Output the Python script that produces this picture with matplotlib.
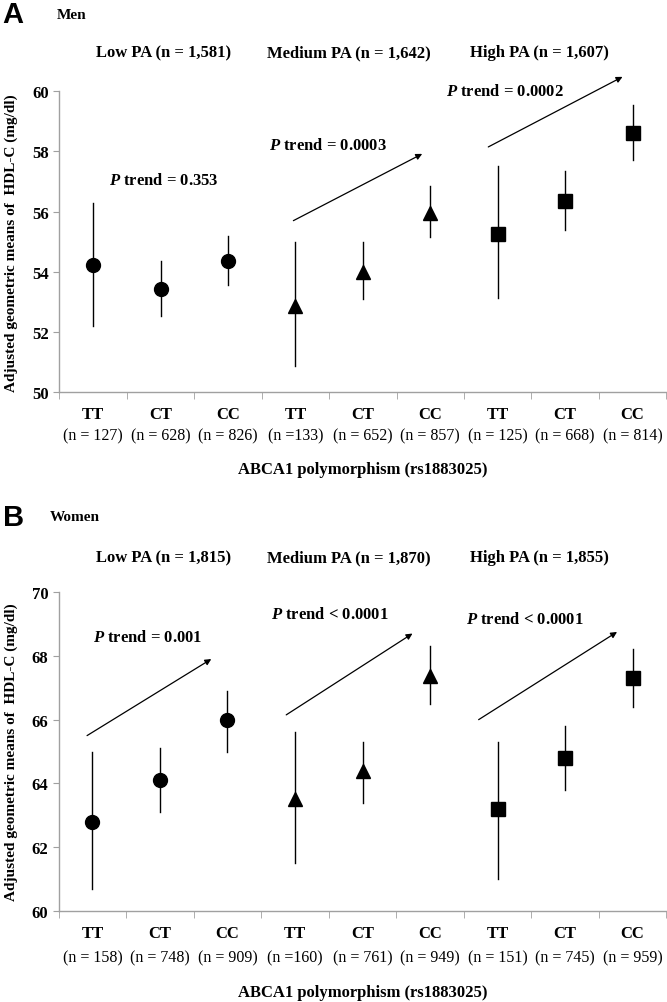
import matplotlib
matplotlib.use("Agg")
from matplotlib import pyplot as plt
from matplotlib import transforms

plt.rcParams['font.family'] = ['Liberation Serif', 'DejaVu Serif']
plt.rcParams['mathtext.fontset'] = 'custom'
plt.rcParams['mathtext.rm'] = 'Liberation Serif:bold'
plt.rcParams['mathtext.bfit'] = 'Liberation Serif:italic:bold'

genotypes = ["TT", "CT", "CC"] * 3
markers = ["o", "^", "s"]
marker_sizes = [10, 10, 10]
groups_a = ["Low PA (n = 1,581)", "Medium PA (n = 1,642)", "High PA (n = 1,607)"]
groups_b = ["Low PA (n = 1,815)", "Medium PA (n = 1,870)", "High PA (n = 1,855)"]
counts_a = ["(n = 127)", "(n = 628)", "(n = 826)", "(n =133)", "(n = 652)", "(n = 857)",
            "(n = 125)", "(n = 668)", "(n = 814)"]
counts_b = ["(n = 158)", "(n = 748)", "(n = 909)", "(n =160)", "(n = 761)", "(n = 949)",
            "(n = 151)", "(n = 745)", "(n = 959)"]

# men: mean, lower, upper
men_mean = [54.24, 53.43, 54.36, 52.85, 53.99, 55.95, 55.25, 56.35, 58.62]
men_low = [52.2, 52.52, 53.55, 50.87, 53.08, 55.15, 53.12, 55.38, 57.7]
men_high = [56.3, 54.36, 55.18, 55.0, 55.0, 56.85, 57.53, 57.35, 59.55]
# women
women_mean = [62.8, 64.1, 66.0, 63.5, 64.38, 67.38, 63.2, 64.8, 67.3]
women_low = [60.7, 63.1, 65.0, 61.5, 63.4, 66.5, 61.0, 63.8, 66.4]
women_high = [65.0, 65.1, 66.9, 65.6, 65.3, 68.3, 65.3, 65.8, 68.2]

p_a = [r"$\mathbfit{P}$ trend = 0.353", r"$\mathbfit{P}$ trend = 0.0003", r"$\mathbfit{P}$ trend = 0.0002"]
p_b = [r"$\mathbfit{P}$ trend = 0.001", r"$\mathbfit{P}$ trend < 0.0001", r"$\mathbfit{P}$ trend < 0.0001"]

fig = plt.figure(figsize=(6.67, 10.03), dpi=100)
axA = fig.add_axes([0.089, 0.608, 0.910, 0.300])
axB = fig.add_axes([0.088, 0.0907, 0.911, 0.318])


def draw_panel(ax, means, lows, highs, ylim, groups, counts, ptexts, ptext_pos, arrows, header_y):
    for i in range(9):
        g = i // 3
        ax.plot([i, i], [lows[i], highs[i]], color="black", lw=1.0, zorder=2)
        ax.plot(i, means[i], marker=markers[g], ms=marker_sizes[g], color="black",
                ls="none", zorder=3)
    ax.set_xlim(-0.5, 8.5)
    ax.set_ylim(ylim)
    ax.set_yticks(range(ylim[0], ylim[1] + 1, 2))
    ax.set_xticks(range(9))
    ax.set_xticklabels(genotypes, fontsize=12, fontweight="bold")
    ax.set_xticks([x - 0.5 for x in range(10)], minor=True)
    ax.tick_params(axis="x", which="major", length=0, pad=10)
    ax.tick_params(axis="x", which="minor", length=5, color="#a0a0a0", direction="out")
    ax.tick_params(axis="y", length=4, color="#a0a0a0", labelsize=12)
    for lab in ax.get_yticklabels():
        lab.set_fontweight("bold")
    for s in ["top", "right"]:
        ax.spines[s].set_visible(False)
    for s in ["left", "bottom"]:
        ax.spines[s].set_color("#a0a0a0")
        ax.spines[s].set_linewidth(1.0)
    ax.set_ylabel("Adjusted geometric means of  HDL-C (mg/dl)", fontsize=11,
                  fontweight="bold", labelpad=10)

    trans = transforms.blended_transform_factory(ax.transData, ax.transAxes)
    for i, c in enumerate(counts):
        ax.text(i, -0.145, c, transform=trans, ha="center", va="center", fontsize=11.5)
    hx = [1.05, 3.8, 6.62]
    for g in range(3):
        ax.text(hx[g], header_y, groups[g], transform=trans, ha="center", va="center",
                fontsize=12, fontweight="bold")
    for g in range(3):
        ax.text(ptext_pos[g][0], ptext_pos[g][1], ptexts[g], ha="center", va="center",
                fontsize=12, fontweight="bold", clip_on=False)
    for (x0, y0, x1, y1) in arrows:
        ax.annotate("", xy=(x1, y1), xytext=(x0, y0), annotation_clip=False,
                    arrowprops=dict(arrowstyle="-|>", lw=0.9, color="black",
                                    mutation_scale=9, shrinkA=0, shrinkB=0))
    ax.text(0.5, -0.255, "ABCA1 polymorphism (rs1883025)", transform=ax.transAxes,
            ha="center", va="center", fontsize=12, fontweight="bold")


draw_panel(axA, men_mean, men_low, men_high, (50, 60), groups_a, counts_a, p_a,
           [(1.05, 57.05), (3.49, 58.2), (6.11, 60.0)],
           [(2.97, 55.7, 4.88, 57.92), (5.86, 58.15, 7.85, 60.48)], 1.13)
draw_panel(axB, women_mean, women_low, women_high, (60, 70), groups_b, counts_b, p_b,
           [(0.82, 68.6), (3.52, 69.3), (6.41, 69.15)],
           [(-0.08, 65.5, 1.76, 67.9), (2.87, 66.15, 4.74, 68.7), (5.72, 66.0, 7.77, 68.75)],
           1.11)

fig.text(0.004, 0.985, "A", fontsize=21, fontweight="bold", family="Liberation Sans",
         va="center", ha="left")
fig.text(0.085, 0.985, "Men", fontsize=11, fontweight="bold", va="center", ha="left")
fig.text(0.004, 0.484, "B", fontsize=21, fontweight="bold", family="Liberation Sans",
         va="center", ha="left")
fig.text(0.075, 0.484, "Women", fontsize=11, fontweight="bold", va="center", ha="left")

fig.savefig("out.png", dpi=100)
